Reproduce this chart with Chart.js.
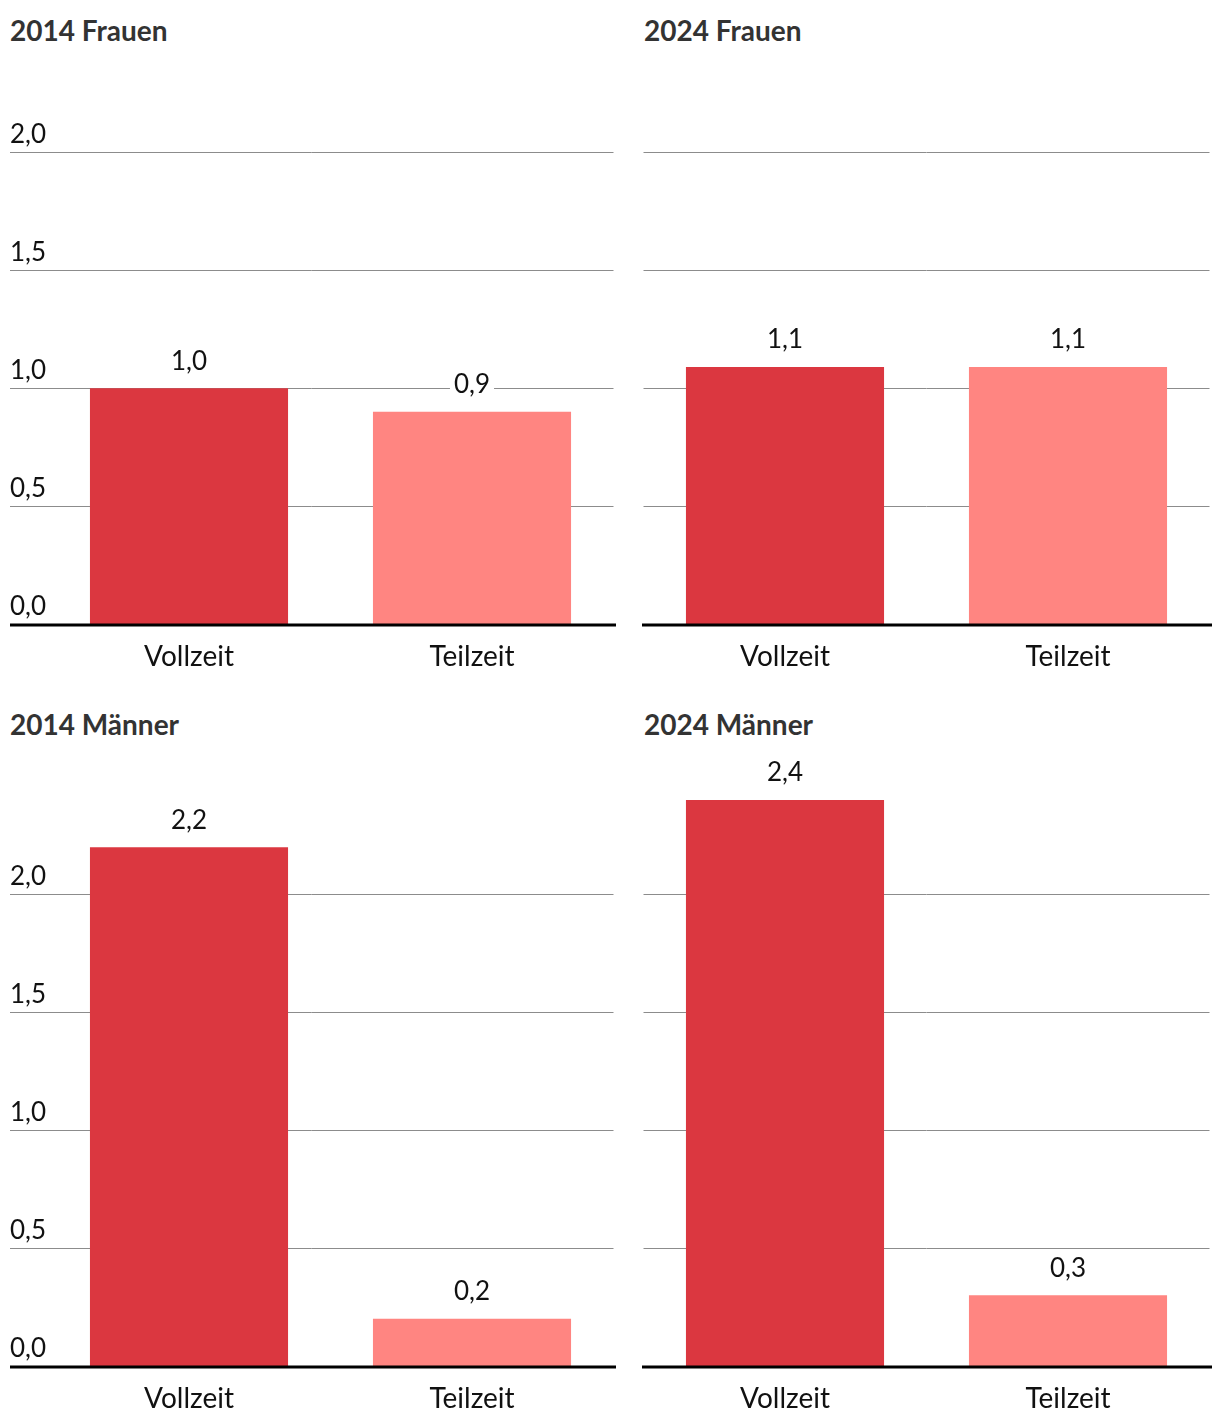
<!DOCTYPE html>
<html lang="de">
<head>
<meta charset="utf-8">
<script src="https://cdn.jsdelivr.net/npm/chart.js@4.4.1/dist/chart.umd.min.js"></script>
<style>
  body { margin: 0; background: #fff; width: 1220px; height: 1428px; position: relative; overflow: hidden; }
  .box { position: absolute; }
  .titel { position: absolute; font-family: Lato, sans-serif; font-weight: bold; font-size: 28px; color: #333; line-height: 1; }
</style>
</head>
<body>
<div class="titel" style="left:10px; top:16px;">2014 Frauen</div>
<div class="titel" style="left:644px; top:16px;">2024 Frauen</div>
<div class="titel" style="left:10px; top:710px;">2014 Männer</div>
<div class="titel" style="left:644px; top:710px;">2024 Männer</div>

<div class="box" style="left:10px; top:2px; width:606px; height:684px;"><canvas id="c1"></canvas></div>
<div class="box" style="left:642px; top:2px; width:570px; height:684px;"><canvas id="c2"></canvas></div>
<div class="box" style="left:10px; top:744px; width:606px; height:684px;"><canvas id="c3"></canvas></div>
<div class="box" style="left:642px; top:744px; width:570px; height:684px;"><canvas id="c4"></canvas></div>

<script>
// Kategorien und Werte (Mio.)
const kategorien = ['Vollzeit', 'Teilzeit'];
const frauen2014 = [1.0, 0.9];
const frauen2024 = [1.09, 1.09];
const maenner2014 = [2.2, 0.2];
const maenner2024 = [2.4, 0.3];
const yTicks = [0, 0.5, 1.0, 1.5, 2.0];

const farben = ['#db3740', '#ff8581'];
const schrift = 'Lato, sans-serif';

const fmt = v => v.toFixed(1).replace('.', ',');

// Gitterlinien, Achsenbeschriftung, Nulllinie und Werte
const panelPlugin = {
    id: 'panel',
    beforeDatasetsDraw(chart, args, opts) {
        const { ctx, chartArea, scales: { y } } = chart;
        ctx.save();
        ctx.strokeStyle = '#8c8c8c';
        ctx.lineWidth = 1;
        ctx.font = '26px ' + schrift;
        ctx.fillStyle = '#111';
        ctx.textAlign = 'left';
        ctx.textBaseline = 'alphabetic';
        yTicks.forEach(v => {
            const py = Math.round(y.getPixelForValue(v)) + 0.5;
            if (v > 0) {
                ctx.beginPath();
                ctx.moveTo(opts.gridStart, py);
                ctx.lineTo(chartArea.right, py);
                ctx.stroke();
            }
            if (opts.labels) ctx.fillText(fmt(v), 0, py - 10);
        });
        ctx.restore();
    },
    afterDatasetsDraw(chart, args, opts) {
        const { ctx, chartArea, scales: { y } } = chart;
        ctx.save();
        ctx.strokeStyle = '#000';
        ctx.lineWidth = 3;
        const py0 = y.getPixelForValue(0) + 1;
        ctx.beginPath();
        ctx.moveTo(0, py0);
        ctx.lineTo(chartArea.right + 2.5, py0);
        ctx.stroke();

        ctx.font = '26px ' + schrift;
        ctx.textAlign = 'center';
        ctx.textBaseline = 'middle';
        const meta = chart.getDatasetMeta(0);
        meta.data.forEach((bar, i) => {
            const txt = fmt(chart.data.datasets[0].data[i]);
            const w = ctx.measureText(txt).width;
            const ty = bar.y - 27;
            ctx.fillStyle = '#fff';
            ctx.fillRect(bar.x - w / 2 - 4, ty - 14, w + 8, 28);
            ctx.fillStyle = '#111';
            ctx.fillText(txt, bar.x, ty);
        });
        ctx.restore();
    }
};

function panel(id, werte, links) {
    new Chart(document.getElementById(id), {
        type: 'bar',
        data: {
            labels: kategorien,
            datasets: [{
                data: werte,
                backgroundColor: farben,
                borderWidth: 0,
                barPercentage: 1,
                categoryPercentage: 0.7
            }]
        },
        options: {
            responsive: true,
            maintainAspectRatio: false,
            animation: false,
            layout: { padding: { left: links ? 37.5 : 1.5, right: 2.5, top: 56, bottom: 0 } },
            plugins: {
                legend: { display: false },
                tooltip: { enabled: false },
                panel: { labels: links, gridStart: links ? 0 : 1.5 }
            },
            scales: {
                x: {
                    grid: { display: false, drawTicks: false },
                    border: { display: false },
                    ticks: { color: '#111', font: { family: schrift, size: 28 }, padding: 16 },
                    afterFit(scale) { scale.height = 62; }
                },
                y: {
                    display: false,
                    min: 0,
                    max: 2.4
                }
            }
        },
        plugins: [panelPlugin]
    });
}

panel('c1', frauen2014, true);
panel('c2', frauen2024, false);
panel('c3', maenner2014, true);
panel('c4', maenner2024, false);
</script>
</body>
</html>
